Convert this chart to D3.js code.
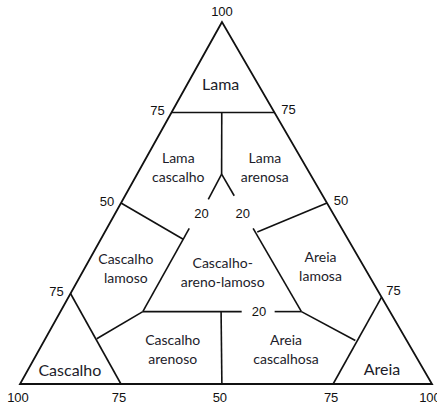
<!DOCTYPE html>
<meta charset="utf-8">
<head>
  <title>Ternary sediment diagram</title>
</head>

<style>
body { margin: 0; background: #fff; }
.edge { fill: none; stroke: #111; stroke-width: 1.8; stroke-linejoin: miter; }
.boundary { fill: none; stroke: #111; stroke-width: 1.6; }
.tick { font-family: "Liberation Sans", Arial, sans-serif; font-size: 13px; fill: #111; }
.region { font-family: Lato, "Open Sans", sans-serif; font-size: 14px; fill: #1c1c2a; }
.region.big { font-size: 16px; }
</style>

<body>
  <svg width="437" height="404"></svg>

  <script src="https://cdn.jsdelivr.net/npm/d3@7"></script>
  <script>
// compositions are [lama, cascalho, areia] fractions
var corners = [[1, 0, 0], [0, 1, 0], [0, 0, 1]];

var boundaries = [
  [[0.75, 0.25, 0], [0.75, 0, 0.25]],
  [[0.75, 0.128, 0.122], [0.58, 0.215, 0.205]],
  [[0.58, 0.215, 0.205], [0.51, 0.283, 0.207]],
  [[0.58, 0.215, 0.205], [0.52, 0.215, 0.265]],
  [[0.43, 0.37, 0.2], [0.2, 0.6, 0.2]],
  [[0.43, 0.215, 0.355], [0.2, 0.215, 0.585]],
  [[0.5, 0.5, 0], [0.4, 0.4, 0.2]],
  [[0.5, 0, 0.5], [0.42, 0.21, 0.37]],
  [[0.2, 0.6, 0.2], [0.2, 0.36, 0.44]],
  [[0.2, 0.28, 0.52], [0.2, 0.215, 0.585]],
  [[0.2, 0.41, 0.39], [0, 0.51, 0.49]],
  [[0.25, 0.75, 0], [0, 0.755, 0.245]],
  [[0.24, 0, 0.76], [0, 0.24, 0.76]],
  [[0.125, 0.75, 0.125], [0.2, 0.6, 0.2]],
  [[0.12, 0.125, 0.755], [0.2, 0.215, 0.585]]
];

var tickLabels = ["100", "75", "50", "75", "75", "50", "75", "100", "75", "50", "75", "100"];
var tickPoints = [
  [1, 0, 0],
  [0.75, 0.25, 0], [0.5, 0.5, 0], [0.25, 0.75, 0],
  [0.75, 0, 0.25], [0.5, 0, 0.5], [0.25, 0, 0.75],
  [0, 1, 0], [0, 0.755, 0.245], [0, 0.51, 0.49], [0, 0.24, 0.76], [0, 0, 1]
];
var tickSides = ["top", "left", "left", "left", "right", "right", "right",
  "bottom", "bottom", "bottom", "bottom", "bottom"];

var innerLabels = ["20", "20", "20"];
var innerPoints = [[0.47, 0.32, 0.21], [0.47, 0.22, 0.31], [0.2, 0.318, 0.482]];

var regionNames = [
  ["Lama"],
  ["Lama", "cascalho"],
  ["Lama", "arenosa"],
  ["Cascalho", "lamoso"],
  ["Cascalho-", "areno-lamoso"],
  ["Areia", "lamosa"],
  ["Cascalho", "arenoso"],
  ["Areia", "cascalhosa"],
  ["Cascalho"],
  ["Areia"]
];
var regionPoints = [
  [0.83, 0.09, 0.08],
  [0.60, 0.31, 0.09],
  [0.60, 0.10, 0.30],
  [0.32, 0.58, 0.10],
  [0.31, 0.35, 0.34],
  [0.325, 0.105, 0.57],
  [0.097, 0.58, 0.323],
  [0.097, 0.305, 0.598],
  [0.041, 0.858, 0.101],
  [0.044, 0.099, 0.857]
];
var bigRegions = ["Lama", "Cascalho", "Areia"];

var svg = d3.select('svg');

// base runs along areia fraction, height along lama fraction; apex slightly left of centre
var xScale = d3.scaleLinear().domain([0, 1]).range([20, 432]);
var yScale = d3.scaleLinear().domain([0, 1]).range([384, 22]);
var skew = (222 - 20) / 412;

function project(p) {
  return [xScale(p[2] + p[0] * skew), yScale(p[0])];
}

var line = d3.line();

svg.append('path')
  .attr('class', 'edge')
  .attr('d', line(corners.map(project)) + 'Z');

svg.selectAll('path.boundary')
  .data(boundaries)
  .enter()
  .append('path')
  .attr('class', 'boundary')
  .attr('d', function(d) { return line(d.map(project)); });

var offsets = {
  top: [0, -11],
  left: [-14, -2],
  right: [14, -3],
  bottom: [-2, 13]
};

svg.selectAll('text.tick')
  .data(tickLabels)
  .enter()
  .append('text')
  .attr('class', 'tick')
  .attr('text-anchor', 'middle')
  .attr('dominant-baseline', 'central')
  .attr('x', function(d, i) { return project(tickPoints[i])[0] + offsets[tickSides[i]][0]; })
  .attr('y', function(d, i) { return project(tickPoints[i])[1] + offsets[tickSides[i]][1]; })
  .text(function(d) { return d; });

svg.selectAll('text.inner')
  .data(innerLabels)
  .enter()
  .append('text')
  .attr('class', 'tick inner')
  .attr('text-anchor', 'middle')
  .attr('dominant-baseline', 'central')
  .attr('x', function(d, i) { return project(innerPoints[i])[0]; })
  .attr('y', function(d, i) { return project(innerPoints[i])[1]; })
  .text(function(d) { return d; });

var labels = svg.selectAll('text.region')
  .data(regionNames)
  .enter()
  .append('text')
  .attr('class', function(d) {
    return d.length == 1 && bigRegions.indexOf(d[0]) >= 0 ? 'region big' : 'region';
  })
  .attr('text-anchor', 'middle')
  .attr('transform', function(d, i) {
    var p = project(regionPoints[i]);
    return 'translate(' + p[0] + ',' + p[1] + ')';
  });

labels.selectAll('tspan')
  .data(function(d) { return d; })
  .enter()
  .append('tspan')
  .attr('x', 0)
  .attr('y', function(d, i, nodes) { return (i - (nodes.length - 1) / 2) * 19; })
  .attr('dominant-baseline', 'central')
  .text(function(d) { return d; });
  </script>
</body>
</html>
